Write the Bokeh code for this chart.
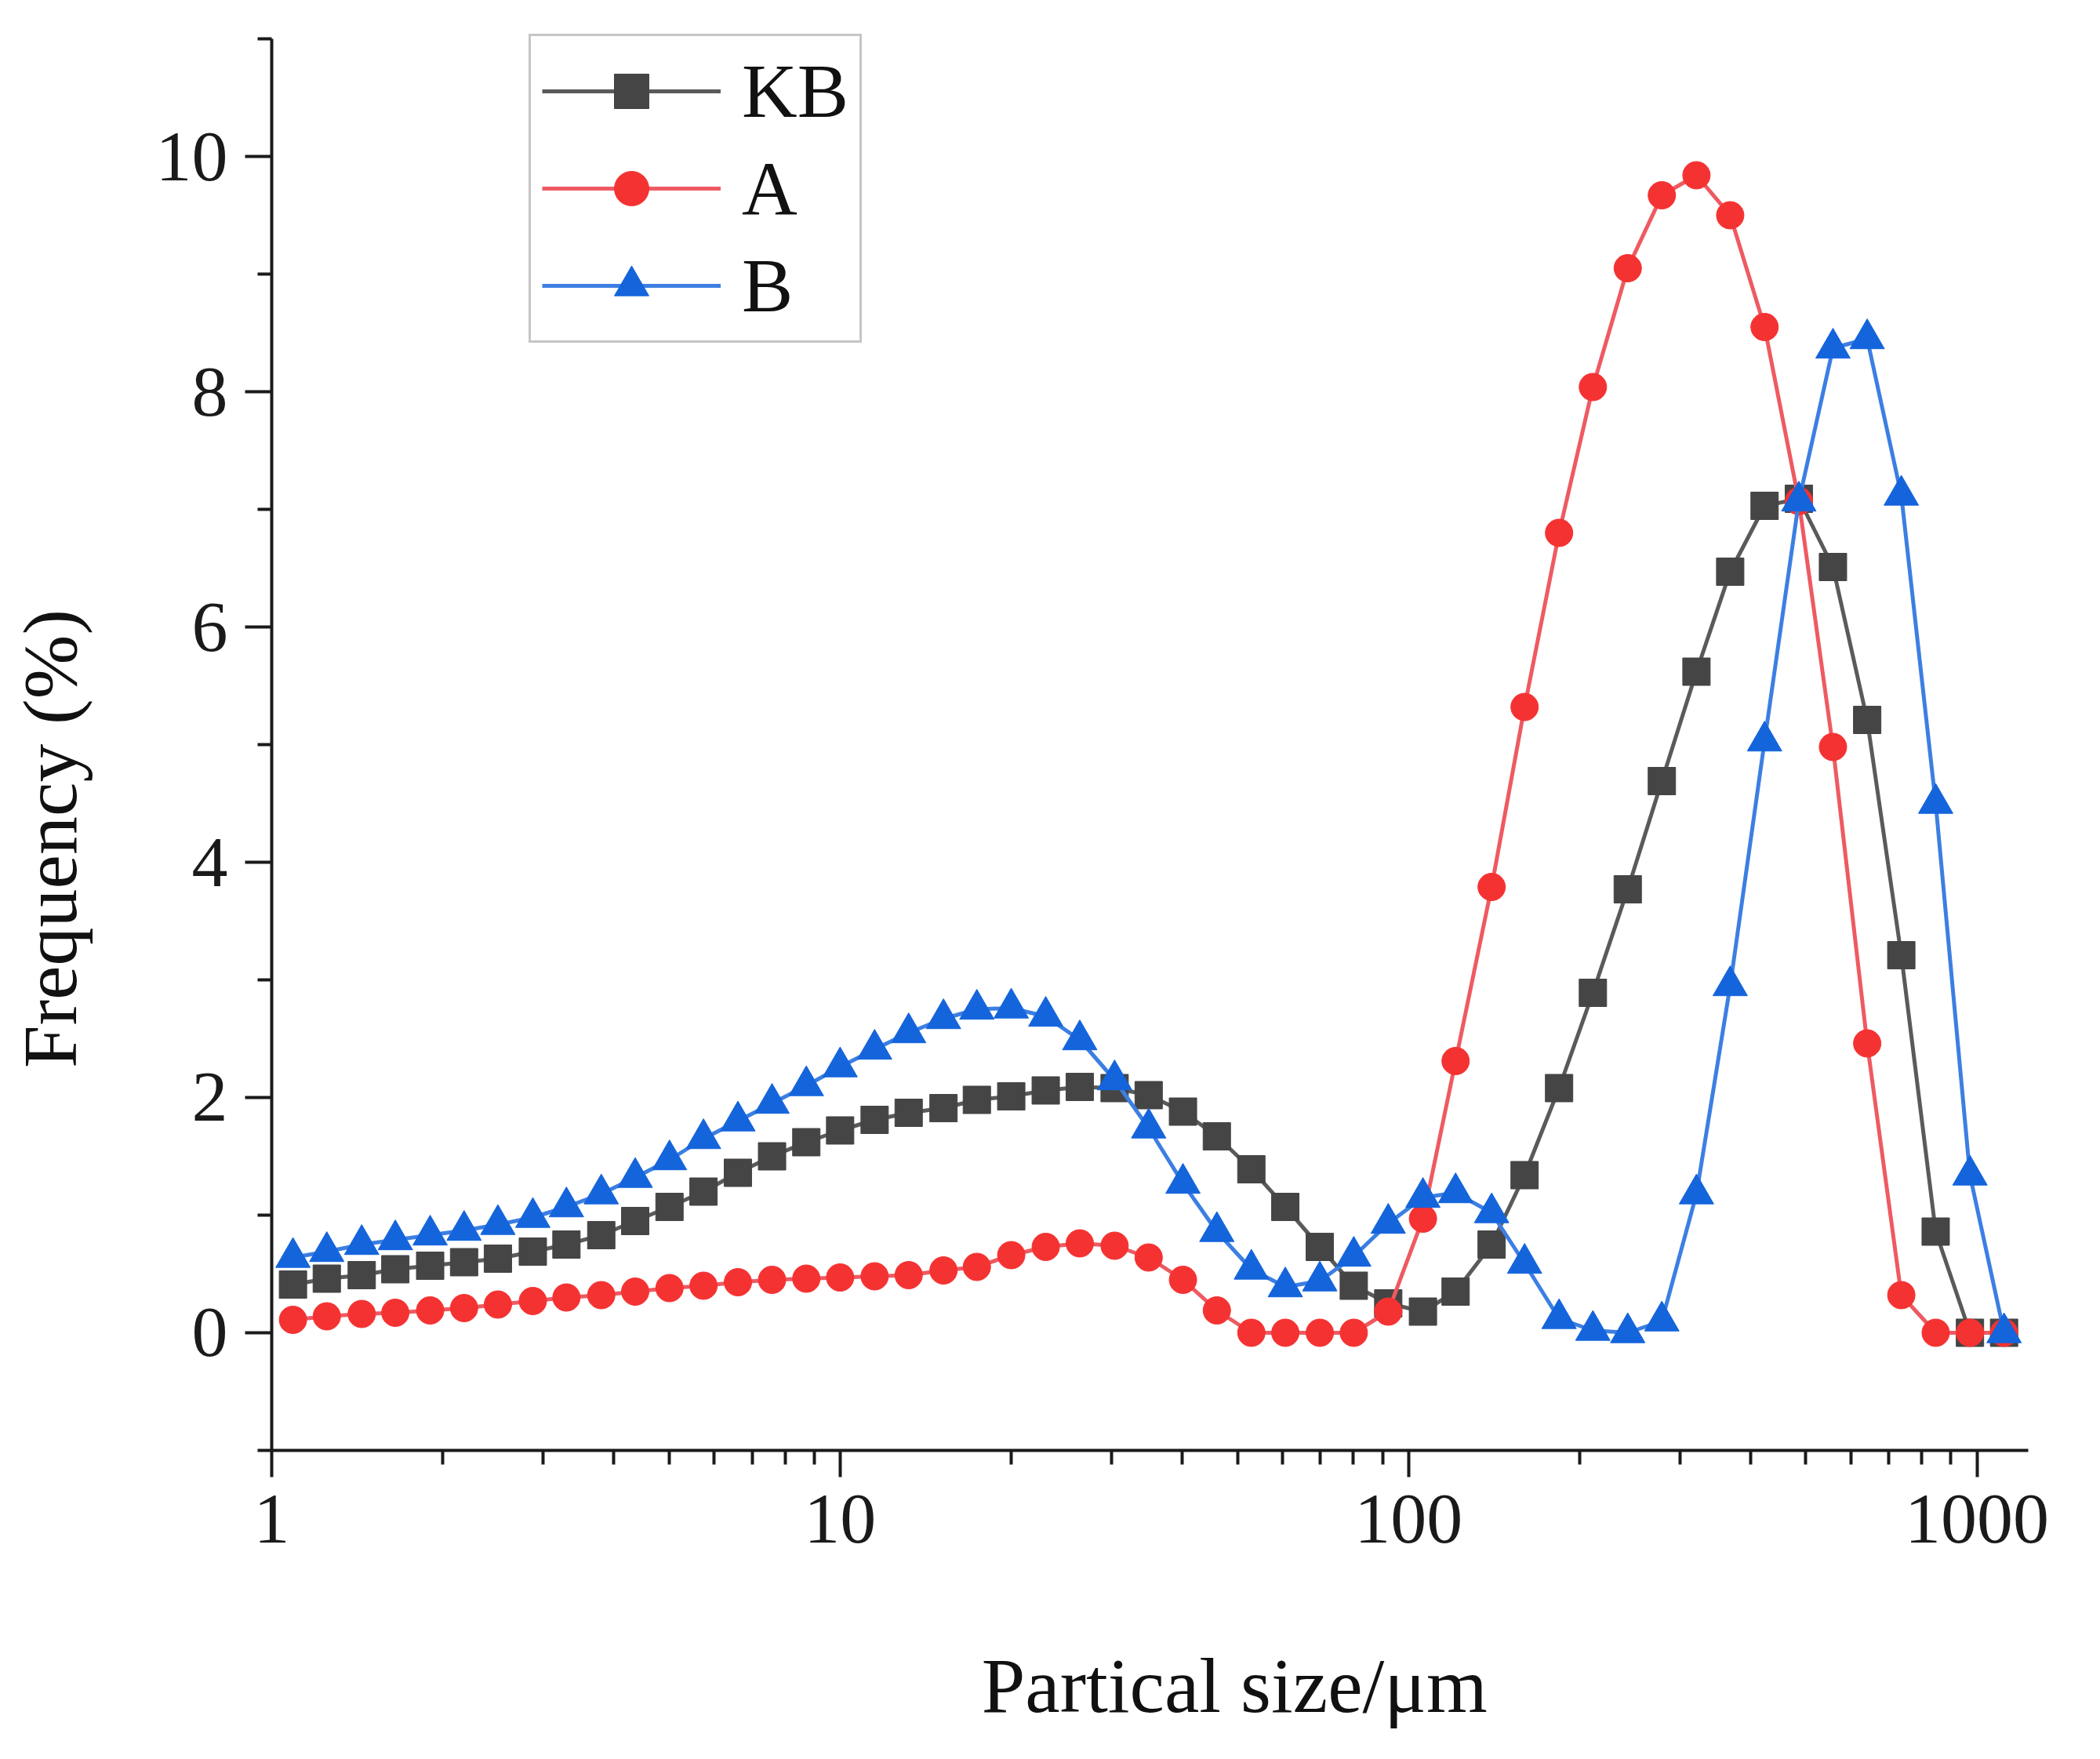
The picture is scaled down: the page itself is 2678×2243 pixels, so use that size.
from bokeh.plotting import figure
from bokeh.models import (ColumnDataSource, Range1d, FixedTicker, Legend, LegendItem,
                          Label, BasicTickFormatter)
from bokeh.embed import file_html
from bokeh.resources import INLINE
import math

# ---- data ----
size_um = [1.09, 1.25, 1.44, 1.65, 1.90, 2.18, 2.50, 2.88, 3.30, 3.80,
           4.36, 5.01, 5.75, 6.61, 7.59, 8.72, 10.0, 11.5, 13.2, 15.2,
           17.4, 20.0, 23.0, 26.4, 30.4, 34.9, 40.1, 46.0, 52.9, 60.7,
           69.8, 80.1, 92.1, 106, 121, 140, 160, 184, 211, 243,
           279, 321, 368, 423, 486, 558, 641, 736, 846, 972, 1116]

kb = [0.41, 0.46, 0.49, 0.54, 0.57, 0.60, 0.63, 0.69, 0.75, 0.83,
      0.95, 1.07, 1.20, 1.36, 1.50, 1.62, 1.72, 1.81, 1.87, 1.91,
      1.98, 2.01, 2.06, 2.09, 2.08, 2.02, 1.88, 1.67, 1.39, 1.07,
      0.73, 0.40, 0.25, 0.18, 0.35, 0.75, 1.34, 2.08, 2.89, 3.77,
      4.69, 5.62, 6.47, 7.03, 7.09, 6.51, 5.21, 3.21, 0.86, 0.0, 0.0]

a_vals = [0.11, 0.14, 0.16, 0.17, 0.19, 0.21, 0.24, 0.27, 0.30, 0.32,
          0.35, 0.38, 0.40, 0.43, 0.45, 0.46, 0.47, 0.48, 0.49, 0.53,
          0.56, 0.66, 0.73, 0.76, 0.74, 0.64, 0.45, 0.19, 0.0, 0.0,
          0.0, 0.0, 0.18, 0.97, 2.31, 3.79, 5.32, 6.80, 8.04, 9.05,
          9.67, 9.84, 9.50, 8.55, 7.07, 4.98, 2.46, 0.32, 0.0, 0.0, 0.0]

b_vals = [0.64, 0.69, 0.75, 0.79, 0.83, 0.87, 0.92, 0.98, 1.07, 1.18,
          1.32, 1.47, 1.65, 1.80, 1.95, 2.10, 2.26, 2.41, 2.55, 2.67,
          2.75, 2.76, 2.69, 2.49, 2.15, 1.74, 1.27, 0.86, 0.54, 0.39,
          0.44, 0.65, 0.93, 1.15, 1.19, 1.02, 0.59, 0.12, 0.02, 0.0,
          0.10, 1.18, 2.95, 5.03, 7.07, 8.37, 8.45, 7.12, 4.50, 1.34, 0.0]

x_major = [1, 10, 100, 1000]
x_minor = [2, 3, 4, 5, 6, 7, 8, 9, 20, 30, 40, 50, 60, 70, 80, 90,
           200, 300, 400, 500, 600, 700, 800, 900]
y_major = [0, 2, 4, 6, 8, 10]
y_minor = [-1, 1, 3, 5, 7, 9, 11]
x_bounds = (1, 1230)
y_bounds = (-1, 11)

FONT = "Liberation Serif"

# the frame fills the whole canvas; axes are drawn at fixed data locations
p = figure(width=2660, height=2225, x_axis_type="log",
           x_range=Range1d(0.3332, 1557), y_range=Range1d(-3.5067, 11.3267),
           output_backend="svg", toolbar_location=None,
           min_border_left=0, min_border_right=0,
           min_border_top=0, min_border_bottom=0)
p.outline_line_color = None
p.xgrid.visible = False
p.ygrid.visible = False
p.background_fill_color = "white"
p.border_fill_color = "white"

for ax in (p.xaxis[0], p.yaxis[0]):
    ax.axis_line_width = 4
    ax.axis_line_color = "#1a1a1a"
    ax.major_tick_line_width = 4
    ax.minor_tick_line_width = 4
    ax.major_tick_line_color = "#1a1a1a"
    ax.minor_tick_line_color = "#1a1a1a"
    ax.major_tick_in = 0
    ax.minor_tick_in = 0
    ax.major_tick_out = 34
    ax.minor_tick_out = 18
    ax.major_label_text_font = FONT
    ax.major_label_text_font_size = "92px"
    ax.major_label_text_color = "#1a1a1a"

p.xaxis[0].ticker = FixedTicker(ticks=x_major, minor_ticks=x_minor)
p.xaxis[0].formatter = BasicTickFormatter()
p.xaxis[0].major_label_standoff = 24
p.xaxis[0].fixed_location = y_bounds[0]
p.xaxis[0].bounds = x_bounds
p.yaxis[0].ticker = FixedTicker(ticks=y_major, minor_ticks=y_minor)
p.yaxis[0].major_label_standoff = 22
p.yaxis[0].fixed_location = x_bounds[0]
p.yaxis[0].bounds = y_bounds

series = [
    ("KB", kb, "square", 35, "#454545", "#5a5a5a"),
    ("A", a_vals, "circle", 35, "#f53232", "#ee5a62"),
    ("B", b_vals, "triangle", 44, "#1464dc", "#3c7fe2"),
]

items = []
for name, vals, marker, msize, mcolor, lcolor in series:
    src = ColumnDataSource(data=dict(x=size_um, y=vals))
    lr = p.line("x", "y", source=src, line_color=lcolor, line_width=5)
    sr = p.scatter("x", "y", source=src, marker=marker, size=msize,
                   fill_color=mcolor, line_color=mcolor, line_width=1)
    items.append(LegendItem(label=name, renderers=[lr, sr]))

legend = Legend(items=items, location=(674, 1788),
                label_text_font=FONT, label_text_font_size="98px",
                label_text_color="#111111",
                glyph_width=228, glyph_height=110, label_height=110,
                label_standoff=27, spacing=12, padding=14, margin=0,
                border_line_color="#8c8c8c", border_line_width=3,
                background_fill_color="white", background_fill_alpha=1.0)
p.add_layout(legend, "center")

# axis titles
p.add_layout(Label(x=49.4, y=-3.0, text="Partical size/μm", text_font=FONT,
                   text_font_size="100px", text_align="center",
                   text_baseline="middle", text_color="#111111"))
p.add_layout(Label(x=0.408, y=4.2, text="Frequency (%)", text_font=FONT,
                   text_font_size="98px", text_align="center",
                   text_baseline="middle", angle=math.pi / 2,
                   text_color="#111111"))

open("out.html", "w").write(file_html(p, INLINE))
